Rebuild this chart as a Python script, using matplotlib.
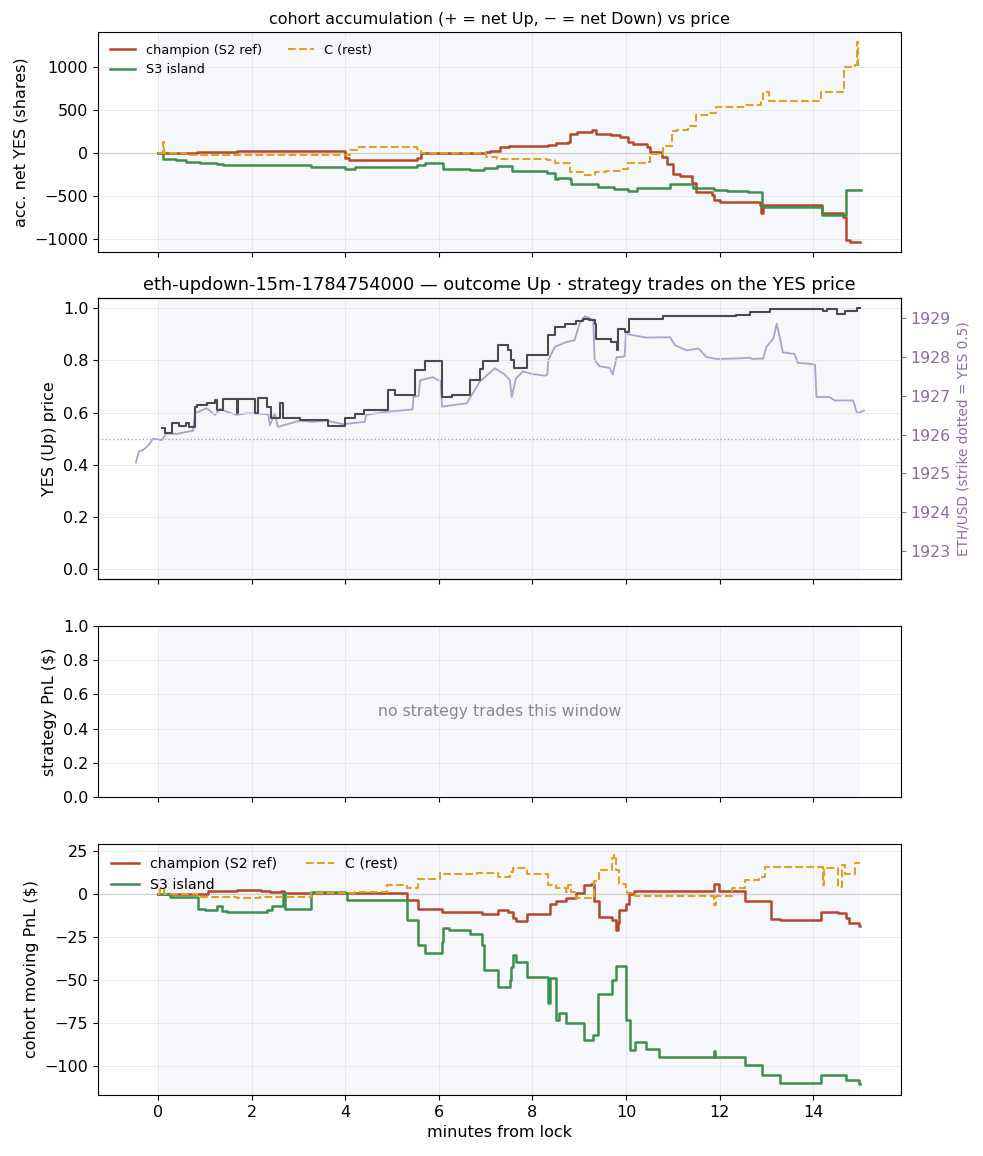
import matplotlib
matplotlib.use("Agg")
import matplotlib.pyplot as plt
from matplotlib.ticker import MultipleLocator

plt.rcParams["font.family"] = ["DejaVu Sans"]
plt.rcParams["font.size"] = 11.5

C_CHAMP = "#b5472a"
C_S3 = "#3d8f4e"
C_REST = "#dfa21e"
C_YES = "#4a4a4a"
C_ETH = "#b09fce"
C_ETH_TXT = "#8c6aac"
SHADE = "#f5f7fb"
GRID = "#e6e6e6"

TITLE_TOP = "cohort accumulation (+ = net Up, \u2212 = net Down) vs price"
TITLE_MID = "eth-updown-15m-1784754000 \u2014 outcome Up \u00b7 strategy trades on the YES price"
STRIKE = 1925.90

# ---- accumulation (shares), step-post breakpoints
acc_champ_t = [0, 0.83, 1.68, 4.0, 4.08, 5.53, 5.63, 7.02, 7.09, 7.31, 7.5, 8.33, 8.5,
               8.76, 8.8, 8.96, 9.27, 9.37, 9.69, 9.87, 10.05, 10.16, 10.44, 10.52,
               10.78, 10.87, 11.0, 11.15, 11.4, 11.5, 11.83, 11.87, 12.0, 12.86,
               12.88, 12.92, 14.18, 14.64, 14.71, 14.78, 15.0]
acc_champ_v = [0, 15, 25, -50, -73, -50, 4, 10, 27, 73, 88, 96, 116,
               127, 227, 247, 266, 220, 212, 190, 130, 111, 73, 15,
               -43, -120, -236, -262, -350, -447, -485, -543, -562, -600,
               -698, -600, -698, -736, -1005, -1032, -1032]

acc_s3_t = [0, 0.1, 0.38, 0.6, 0.9, 1.26, 1.4, 2.28, 3.28, 4.0, 4.22, 5.53, 5.71,
            6.1, 6.67, 6.97, 7.06, 7.24, 7.56, 8.31, 8.49, 8.55, 8.8, 8.82, 9.4,
            9.75, 10.05, 10.23, 10.94, 11.44, 11.87, 12.15, 12.61, 12.9, 12.93,
            13.33, 14.18, 14.71, 15.03]
acc_s3_v = [0, -62, -80, -100, -112, -127, -135, -140, -160, -183, -160, -135, -118,
            -180, -200, -172, -170, -150, -207, -227, -304, -290, -300, -362, -389,
            -420, -439, -400, -362, -400, -427, -439, -447, -612, -620,
            -620, -717, -431, -431]

acc_rest_t = [0, 0.1, 0.14, 0.6, 1.0, 4.0, 4.1, 4.26, 5.53, 5.63, 7.02, 7.24, 7.56,
              8.31, 8.49, 8.8, 9.08, 9.33, 9.58, 9.87, 10.05, 10.41, 10.52, 10.8,
              10.98, 11.09, 11.33, 11.5, 11.8, 11.92, 12.56, 12.88, 12.92, 13.06,
              14.16, 14.66, 14.9, 14.93, 14.96, 15.0]
acc_rest_v = [0, 130, 0, -15, -23, -20, 39, 77, 50, 0, -39, -62, -69,
              -80, -115, -219, -250, -219, -211, -188, -115, -96, -3, 81,
              254, 273, 312, 447, 466, 543, 562, 601, 716, 612,
              716, 1005, 1024, 1294, 1024, 1024]

# ---- YES price (step) and ETH spot
yes_t = [0.08, 0.15, 0.3, 0.45, 0.61, 0.66, 0.79, 0.83, 1.04, 1.22, 1.26, 1.4, 1.68,
         1.72, 2.0, 2.07, 2.14, 2.32, 2.42, 2.6, 2.67, 3.03, 3.64, 3.96, 4.0, 4.2,
         4.41, 4.92, 5.06, 5.5, 5.71, 6.07, 6.28, 6.67, 6.88, 6.95, 7.27, 7.48,
         7.55, 7.6, 7.88, 8.34, 8.48, 8.69, 8.94, 9.08, 9.22, 9.33, 9.37, 9.69,
         9.8, 9.83, 9.97, 10.07, 10.44, 10.79, 12.36, 12.65, 13.08, 14.22, 14.3,
         14.5, 14.68, 14.93, 15.0]
yes_v = [0.539, 0.52, 0.56, 0.55, 0.56, 0.545, 0.622, 0.628, 0.637, 0.647, 0.61, 0.651, 0.60,
         0.651, 0.651, 0.60, 0.656, 0.62, 0.58, 0.635, 0.58, 0.571, 0.549, 0.549, 0.58, 0.595,
         0.61, 0.688, 0.667, 0.762, 0.798, 0.66, 0.667, 0.724, 0.769, 0.798, 0.858, 0.84,
         0.80, 0.77, 0.82, 0.897, 0.93, 0.94, 0.951, 0.96, 0.955, 0.94, 0.884, 0.87,
         0.84, 0.92, 0.91, 0.96, 0.96, 0.97, 0.976, 0.986, 0.999, 0.99, 0.999,
         0.98, 0.99, 1.0, 1.0]

eth_t = [-0.47, -0.41, -0.3, -0.2, -0.1, 0.08, 0.18, 0.4, 0.61, 0.75, 0.79, 1.04, 1.22,
         1.33, 1.5, 1.68, 1.9, 2.11, 2.36, 2.39, 2.5, 2.56, 3.03, 3.3, 3.6, 3.96, 4.27,
         4.42, 4.45, 4.89, 5.28, 5.44, 5.46, 5.57, 5.6, 5.88, 5.99, 6.04, 6.07, 6.6,
         6.88, 7.2, 7.41, 7.52, 7.56, 7.65, 7.8, 8.0, 8.27, 8.32, 8.34, 8.48, 8.73,
         8.9, 9.01, 9.12, 9.22, 9.3, 9.33, 9.44, 9.65, 9.72, 9.8, 9.91, 9.97, 10.0,
         10.15, 10.44, 10.94, 11.05, 11.3, 11.55, 11.72, 11.94, 12.3, 12.65, 12.7,
         12.93, 13.0, 13.15, 13.22, 13.29, 13.35, 13.6, 13.67, 13.96, 14.04, 14.07,
         14.35, 14.46, 14.85, 14.89, 14.92, 14.97, 15.03, 15.08]
eth_v = [1925.28, 1925.56, 1925.62, 1925.73, 1925.90, 1925.86, 1926.03, 1926.02, 1926.07,
         1926.10, 1926.55, 1926.68, 1926.51, 1926.66, 1926.58, 1926.51, 1926.55, 1926.55,
         1926.52, 1926.24, 1926.55, 1926.20, 1926.36, 1926.33, 1926.36, 1926.27, 1926.31,
         1926.33, 1926.51, 1926.59, 1926.63, 1926.65, 1926.97, 1927.00, 1927.40, 1927.48,
         1927.40, 1927.38, 1926.72, 1926.81, 1927.37, 1927.71, 1927.55, 1927.40, 1926.97,
         1927.45, 1927.63, 1927.56, 1927.52, 1927.55, 1927.92, 1928.26, 1928.39, 1928.43,
         1928.86, 1929.05, 1929.00, 1928.95, 1927.92, 1927.76, 1927.72, 1927.55, 1928.00,
         1928.00, 1928.02, 1928.60, 1928.56, 1928.50, 1928.51, 1928.30, 1928.17, 1928.22,
         1928.00, 1927.95, 1927.96, 1927.98, 1927.95, 1927.96, 1928.26, 1928.48, 1928.86,
         1928.48, 1928.12, 1928.08, 1927.85, 1927.82, 1927.80, 1926.97, 1926.97, 1926.88,
         1926.88, 1926.74, 1926.60, 1926.55, 1926.59, 1926.62]

# ---- cohort moving PnL ($), step-post breakpoints
pnl_champ_t = [0, 1.08, 1.69, 2.2, 2.4, 2.63, 2.7, 3.28, 5.33, 5.56, 6.06, 6.92, 7.27,
               7.48, 7.59, 7.66, 7.88, 8.34, 8.37, 8.51, 8.72, 8.93, 9.11, 9.25, 9.32,
               9.42, 9.7, 9.78, 9.82, 9.85, 9.99, 10.06, 10.17, 11.84, 11.87, 11.98,
               12.55, 13.09, 13.3, 14.16, 14.52, 14.7, 14.77, 14.98, 15.0]
pnl_champ_v = [0, 1.75, 2.3, 1.8, 1.2, 1.8, 0.4, 0.8, -3.5, -8.9, -10.3, -11.7, -9.3,
               -10.5, -14.2, -15.6, -11.7, -11.7, -6.0, -4.1, -2.5, 0.4, 5.3, 6.2, -4.2,
               -13.4, -15.0, -21.0, -17.0, -9.3, -6.0, 0.2, 2.1, 2.1, 6.2, 2.1,
               -4.1, -14.4, -15.0, -10.3, -11.0, -14.0, -16.9, -18.5, -18.5]

pnl_s3_t = [0, 0.26, 0.65, 0.86, 1.0, 1.26, 1.36, 1.47, 2.19, 2.33, 2.44, 2.68, 2.72,
            3.28, 4.0, 4.05, 4.22, 5.33, 5.56, 5.71, 6.08, 6.1, 6.21, 6.67, 6.92,
            6.96, 7.27, 7.52, 7.55, 7.59, 7.66, 7.88, 8.34, 8.37, 8.51, 8.56, 8.72,
            9.11, 9.29, 9.4, 9.7, 9.78, 9.99, 10.09, 10.2, 10.42, 10.7, 11.87, 11.9,
            12.55, 12.9, 13.3, 14.16, 14.7, 14.98, 15.0]
pnl_s3_v = [0, -1.9, -1.9, -8.4, -9.3, -7.0, -9.9, -10.7, -10.7, -9.0, -7.0, 1.4, -8.9,
            1.2, 0.5, -3.5, -3.5, -15.2, -29.8, -34.6, -28.0, -19.8, -21.2, -23.1, -29.8,
            -44.4, -54.0, -49.8, -42.4, -35.6, -39.5, -48.2, -63.4, -49.2, -73.5, -69.3, -74.9,
            -85.2, -82.3, -58.0, -49.8, -42.0, -73.5, -91.0, -86.1, -90.4, -95.0, -91.5, -95.0,
            -99.4, -105.3, -109.9, -105.7, -108.5, -110.5, -110.5]

pnl_rest_t = [0, 0.05, 0.12, 0.83, 1.69, 2.19, 2.68, 3.28, 4.22, 4.46, 4.89, 5.33, 5.56,
              6.03, 6.08, 6.82, 7.27, 7.52, 7.59, 7.88, 8.34, 8.51, 8.72, 8.76, 8.82,
              8.93, 9.32, 9.42, 9.7, 9.74, 9.78, 9.85, 9.99, 10.02, 10.2, 11.84, 11.87,
              11.92, 12.27, 12.55, 12.84, 12.98, 14.2, 14.24, 14.54, 14.61, 14.68,
              14.9, 15.0]
pnl_rest_v = [0, 3.0, 0, -1.5, -2.5, -1.8, -1.5, 0.4, 1.4, 1.0, 5.3, 3.3, 8.6,
              12.1, 11.5, 12.5, 10.1, 13.0, 15.0, 12.0, 5.3, 3.3, 1.4, 5.3, 1.4,
              -2.5, 7.4, 14.0, 20.8, 22.6, 14.0, 6.2, 3.0, 0.4, -1.2, -1.2, -6.4,
              -1.2, 3.3, 8.2, 10.1, 16.0, 5.3, 15.5, 4.3, 17.0, 12.0,
              17.9, 17.9]

fig = plt.figure(figsize=(9.83, 11.56), dpi=100)
L, W = 0.0997, 0.8166
ax1 = fig.add_axes([L, 0.782, W, 0.1903])
ax2 = fig.add_axes([L, 0.4991, W, 0.2431], sharex=ax1)
ax3 = fig.add_axes([L, 0.3106, W, 0.1479], sharex=ax1)
ax4 = fig.add_axes([L, 0.0528, W, 0.2171], sharex=ax1)

for ax in (ax1, ax2, ax3, ax4):
    ax.grid(True, color=GRID, linewidth=0.6, zorder=0.5)
    ax.set_axisbelow(True)
for ax in (ax1, ax3, ax4):
    ax.axvspan(0, 15, color=SHADE, zorder=0, lw=0)
for ax in (ax1, ax2, ax3):
    ax.tick_params(labelbottom=False)

# panel 1
ax1.axhline(0, color="#cfcfcf", lw=0.9, zorder=1)
ax1.plot(acc_champ_t, acc_champ_v, drawstyle="steps-post", color=C_CHAMP, lw=1.8,
         label="champion (S2 ref)", zorder=3)
ax1.plot(acc_s3_t, acc_s3_v, drawstyle="steps-post", color=C_S3, lw=1.8,
         label="S3 island", zorder=3)
ax1.plot(acc_rest_t, acc_rest_v, drawstyle="steps-post", color=C_REST, lw=1.5,
         ls="--", label="C (rest)", zorder=3)
ax1.set_ylabel("acc. net YES (shares)")
ax1.set_title(TITLE_TOP, fontsize=11.4)
ax1.legend(loc="upper left", ncol=2, fontsize=9.3, frameon=False)

# panel 2 (ETH on twin axis underneath, YES price on top)
ax2r = ax2.twinx()
ax2r.axvspan(0, 15, color=SHADE, zorder=0, lw=0)
ax2r.plot(eth_t, eth_v, color=C_ETH, lw=1.3, zorder=2)
ax2r.set_ylim(STRIKE - 3.62, STRIKE + 3.62)
ax2r.tick_params(axis="y", colors=C_ETH_TXT, labelsize=11.3)
ax2r.set_ylabel("ETH/USD (strike dotted = YES 0.5)", color=C_ETH_TXT, fontsize=9.8)
ax2.set_zorder(ax2r.get_zorder() + 1)
ax2.patch.set_visible(False)

ax2.plot(yes_t, yes_v, drawstyle="steps-post", color=C_YES, lw=1.5, zorder=3)
ax2.axhline(0.5, color=C_ETH, ls=":", lw=1.0, zorder=2)
ax2.set_ylim(-0.04, 1.04)
ax2.set_ylabel("YES (Up) price")
ax2.set_title(TITLE_MID, fontsize=12.8)

# panel 3
ax3.set_ylim(0, 1)
ax3.set_ylabel("strategy PnL ($)")
ax3.text(0.5, 0.5, "no strategy trades this window", transform=ax3.transAxes,
         ha="center", va="center", color="#888888", fontsize=11.3)

# panel 4
ax4.axhline(0, color="#cfcfcf", lw=0.9, zorder=1)
ax4.plot(pnl_champ_t, pnl_champ_v, drawstyle="steps-post", color=C_CHAMP, lw=1.8,
         label="champion (S2 ref)", zorder=3)
ax4.plot(pnl_s3_t, pnl_s3_v, drawstyle="steps-post", color=C_S3, lw=1.8,
         label="S3 island", zorder=3)
ax4.plot(pnl_rest_t, pnl_rest_v, drawstyle="steps-post", color=C_REST, lw=1.5,
         ls="--", label="C (rest)", zorder=3)
ax4.yaxis.set_major_locator(MultipleLocator(25))
ax4.set_ylabel("cohort moving PnL ($)")
ax4.set_xlabel("minutes from lock")
ax4.legend(loc="upper left", ncol=2, fontsize=10.2, frameon=False)

ax1.set_xlim(-1.28, 15.87)
ax1.set_xticks([0, 2, 4, 6, 8, 10, 12, 14])

fig.savefig("out.png", dpi=100)
